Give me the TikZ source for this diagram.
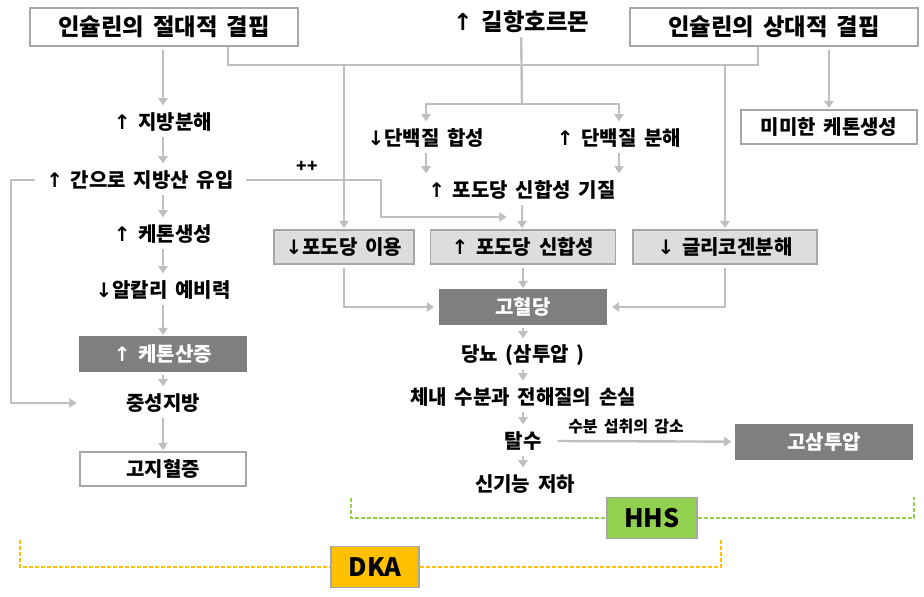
\documentclass[tikz,border=0pt]{standalone}
\usepackage{fontspec}
\setmainfont{Noto Sans CJK KR}[WordSpace=1.7]
\newfontfamily\arw{DejaVu Sans}
\usetikzlibrary{arrows.meta}
\definecolor{linha}{HTML}{BFBFBF}
\definecolor{borda}{HTML}{A6A6A6}
\definecolor{claro}{HTML}{DDDDDD}
\definecolor{escuro}{HTML}{7F7F7F}
\definecolor{verde}{HTML}{92D050}
\definecolor{laranja}{HTML}{FFC000}
\newcommand{\incr}{{\arw ↑}}
\newcommand{\decr}{{\arw ↓}}
\begin{document}
\begin{tikzpicture}[x=0.75pt,y=-0.75pt,font=\bfseries\fontsize{15}{17}\selectfont,
	caixa/.style={draw=borda,line width=0.8pt,fill=white,minimum height=25.5pt,inner sep=2pt},
	cinza/.style={caixa,fill=claro},
	escura/.style={caixa,draw=escuro,fill=escuro,text=white},
	texto/.style={minimum height=22.5pt,inner sep=0pt},
	miudo/.style={texto,font=\bfseries\fontsize{12}{14}\selectfont},
	grande/.style={font=\bfseries\fontsize{17.5}{19}\selectfont},
	sigla/.style={caixa,minimum height=31pt,font=\bfseries\fontsize{19}{21}\selectfont},
	linhaG/.style={draw=linha,line width=1.8pt},
	seta/.style={linhaG,-{Triangle[width=7pt,length=5.5pt]},shorten >=1pt},
	saida/.style={shorten <=2.5pt},
	tracoHHS/.style={draw=verde,line width=1.1pt,dash pattern=on 3pt off 1.5pt},
	tracoDKA/.style={draw=laranja,line width=1.1pt,dash pattern=on 3pt off 1.5pt}] %Início do diagrama
	\useasboundingbox (0,0) rectangle (924,596); %Margens
		%Topo
	\node[caixa,grande,minimum width=201pt,minimum height=28.5pt] (absdef) at (164,27) {인슐린의 절대적 결핍};
	\node[texto,grande] (counter) at (521,22) {\incr{} 길항호르몬};
	\node[caixa,grande,minimum width=216pt,minimum height=28.5pt] (reldef) at (774,27) {인슐린의 상대적 결핍};
	\node[caixa,minimum width=132pt] (minketo) at (829,127) {미미한 케톤생성};
		%Coluna esquerda
	\node[texto] (lipo) at (163,122) {\incr{} 지방분해};
	\node[texto] (ffa) at (140,180) {\incr{} 간으로 지방산 유입};
	\node[texto] (keto) at (163,234) {\incr{} 케톤생성};
	\node[texto] (alk) at (163,290) {\decr{}알칼리 예비력};
	\node[escura,minimum width=124.5pt] (ketoacid) at (163,354) {\incr{} 케톤산증};
	\node[texto] (tg) at (163,403) {중성지방};
	\node[caixa,minimum width=124.5pt] (hyperlip) at (163,469) {고지혈증};
	\node[miudo,font=\bfseries\fontsize{13}{15}\selectfont] (plus) at (307,167) {++};
		%Centro
	\node[texto] (protsyn) at (426,138) {\decr{}단백질 합성};
	\node[texto] (protdeg) at (619,138) {\incr{} 단백질 분해};
	\node[texto] (substrate) at (522,190) {\incr{} 포도당 신합성 기질};
	\node[cinza,minimum width=105pt] (glcuse) at (344,247) {\decr{}포도당 이용};
	\node[cinza,minimum width=138.75pt] (gneo) at (523,247) {\incr{} 포도당 신합성};
	\node[cinza,minimum width=138pt] (glycogen) at (725,247) {\decr{} 글리코겐분해};
	\node[escura,minimum width=124.5pt] (hyperglyc) at (523,307) {고혈당};
	\node[texto] (glycosuria) at (523,355) {당뇨 (삼투압 )};
	\node[texto] (loss) at (523,397) {체내 수분과 전해질의 손실};
	\node[texto] (dehyd) at (523,441) {탈수};
	\node[texto] (renal) at (525,484) {신기능 저하};
	\node[escura,minimum width=132pt] (hyperosm) at (824,442) {고삼투압};
	\node[miudo] (intake) at (626,427) {수분 섭취의 감소};
		%Siglas
	\node[sigla,fill=verde,minimum width=67.5pt] (hhs) at (652,518) {HHS};
	\node[sigla,fill=laranja,minimum width=66pt] (dka) at (375,567) {DKA};
		%Pontos auxiliares
	\coordinate (busL) at (228,65);
	\coordinate (busR) at (758,65);
	\coordinate (split) at (522,104);
	\coordinate (loopL) at (11,403);
	\coordinate (ffaturn) at (381,217);
	\coordinate (ffaend) at (508,217);
	\coordinate (hhsL) at (351,498);
	\coordinate (hhsR) at (914,497);
	\coordinate (dkaL) at (20,540);
	\coordinate (dkaR) at (721,540);
		%Setas da coluna esquerda
	\draw[seta,saida] (absdef.south -| lipo) -- (lipo);
	\draw[seta] (lipo) -- (lipo |- ffa.north);
	\draw[seta] (ffa.south -| keto) -- (keto);
	\draw[seta] (keto) -- (alk);
	\draw[seta] (alk) -- (ketoacid);
	\draw[seta,saida] (ketoacid) -- (tg);
	\draw[seta] (tg) -- (hyperlip);
	\draw[seta] ([xshift=-8pt]ffa.west) -| (loopL) -- ([xshift=-36pt]tg.west);
	\draw[seta] ([xshift=9pt]ffa.east) -| (ffaturn) -- (ffaend);
		%Ligações do topo
	\draw[linhaG] (absdef.south -| busL) -- (busL) -- (busR) -- (reldef.south -| busR);
	\draw[seta] (busL -| glcuse) -- (glcuse);
	\draw[seta] (busR -| glycogen) -- (glycogen);
	\draw[linhaG] (counter) -- (split);
	\draw[seta] (split) -| (protsyn);
	\draw[seta] (split) -| (protdeg);
	\draw[seta,saida] (reldef.south -| minketo) -- (minketo);
		%Centro
	\draw[seta] (protsyn) -- (protsyn |- substrate.north);
	\draw[seta] (protdeg) -- (protdeg |- substrate.north);
	\draw[seta] (substrate) -- (substrate |- gneo.north);
	\draw[seta,saida] (gneo) -- (hyperglyc);
	\draw[seta,saida,shorten >=4pt] (glcuse) |- (hyperglyc);
	\draw[seta,saida,shorten >=4pt] (glycogen) |- (hyperglyc);
	\draw[seta,saida] (hyperglyc) -- (glycosuria);
	\draw[seta] (glycosuria) -- (loss);
	\draw[seta] (loss) -- (dehyd);
	\draw[seta] (dehyd) -- (dehyd |- renal.north);
	\draw[seta,shorten >=3pt] ([xshift=12pt]dehyd.east) -- (hyperosm);
		%Linhas tracejadas
	\draw[tracoHHS] (hhsL) |- (hhs);
	\draw[tracoHHS] (hhs) -| (hhsR);
	\draw[tracoDKA] (dkaL) |- (dka);
	\draw[tracoDKA] (dka) -| (dkaR);
\end{tikzpicture}
\end{document}
